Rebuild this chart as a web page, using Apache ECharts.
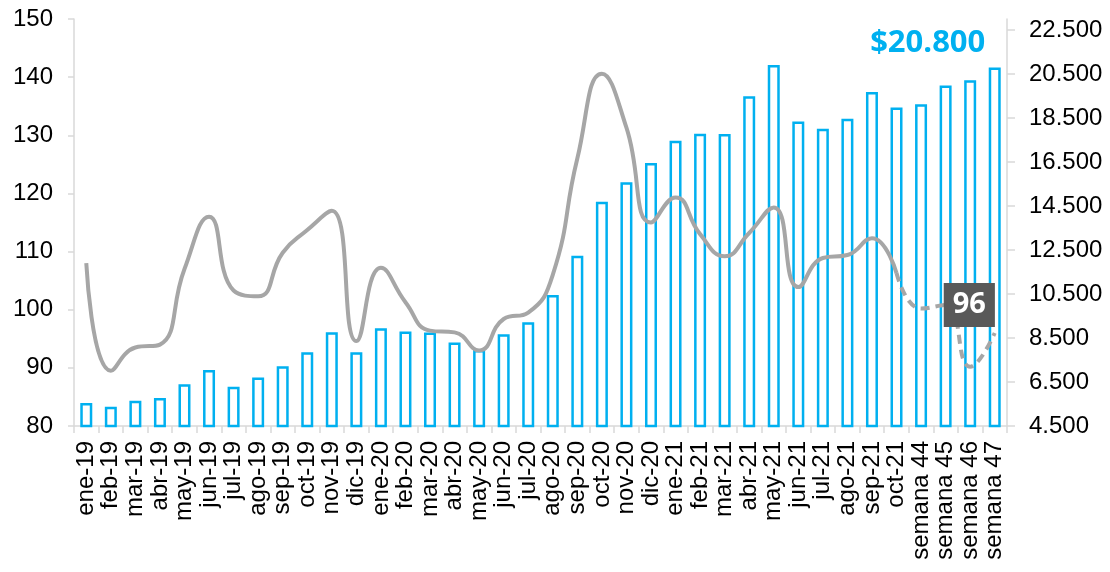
<!DOCTYPE html>
<html>
<head>
<meta charset="utf-8">
<script src="https://cdn.jsdelivr.net/npm/echarts@6/dist/echarts.min.js"></script>
<style>
html,body{margin:0;padding:0;background:#fff;}
#c{width:1110px;height:572px;}
</style>
</head>
<body>
<div id="c"></div>
<script>
var categories = ['ene-19','feb-19','mar-19','abr-19','may-19','jun-19','jul-19','ago-19','sep-19','oct-19','nov-19','dic-19',
  'ene-20','feb-20','mar-20','abr-20','may-20','jun-20','jul-20','ago-20','sep-20','oct-20','nov-20','dic-20',
  'ene-21','feb-21','mar-21','abr-21','may-21','jun-21','jul-21','ago-21','sep-21','oct-21',
  'semana 44','semana 45','semana 46','semana 47'];

var barValues = [5550, 5380, 5650, 5770, 6400, 7040, 6280, 6710, 7220, 7850, 8760, 7850,
  8940, 8800, 8750, 8300, 7950, 8670, 9220, 10450, 12240, 14690, 15580, 16460,
  17470, 17780, 17770, 19490, 20910, 18340, 18010, 18470, 19680, 18980,
  19130, 19980, 20220, 20800];

var lineSolid = [108, 89.5, 93.5, 94, 107, 116, 103.3, 102.3, 109.8, 113.7, 117, 94.6,
  107.2, 101.3, 96.4, 96.1, 93, 98.4, 99.5, 106, 126, 140.6, 131.3, 115,
  119.3, 113, 109.2, 113.2, 117.6, 103.9, 108.9, 109.4, 112.3, 106.3,
  null, null, null, null];

var lineDashed = [null, null, null, null, null, null, null, null, null, null, null, null,
  null, null, null, null, null, null, null, null, null, null, null, null,
  null, null, null, null, null, null, null, null, null, 106.3,
  100.2, 100.8, 90.2, 96];

var leftAxis = {min: 80, max: 150, interval: 10};
var rightAxis = {min: 4500, max: 23000, interval: 2000};
var lastBarLabel = '$20.800';
var lastLineLabel = '96';

function fmtThousands(v){
  return String(v).replace(/\B(?=(\d{3})+(?!\d))/g, '.');
}

var axisGrey = '#D9D9D9';
var fontFam = '"Liberation Sans", Arial, sans-serif';

var barData = barValues.map(function(v, i){
  if (i === barValues.length - 1) {
    return {value: v, label: {show: true, position: 'top', distance: 5, offset: [-67, -4],
      formatter: lastBarLabel, color: '#00B0F0', fontFamily: '"Open Sans", sans-serif',
      fontWeight: 'bold', fontSize: 31}};
  }
  return v;
});

var dashedData = lineDashed.map(function(v, i){
  if (i === lineDashed.length - 1) {
    return {value: v, label: {show: true, position: [-51, -50],
      formatter: lastLineLabel, color: '#fff', backgroundColor: '#595959',
      fontFamily: '"Open Sans", sans-serif', fontWeight: 'bold', fontSize: 29,
      lineHeight: 36, padding: [4, 9, 4, 9]}};
  }
  return v;
});

var chart = echarts.init(document.getElementById('c'), null, {renderer: 'canvas'});
chart.setOption({
  animation: false,
  backgroundColor: '#fff',
  grid: {left: 74, right: 103, top: 19, bottom: 146, containLabel: false},
  xAxis: {
    type: 'category',
    data: categories,
    boundaryGap: true,
    axisLine: {show: true, lineStyle: {color: axisGrey, width: 1.5}},
    axisTick: {show: true, length: 7, interval: 0, lineStyle: {color: axisGrey, width: 1.5}},
    axisLabel: {interval: 0, rotate: 90, margin: 15, color: '#000', fontSize: 24, fontFamily: fontFam},
    splitLine: {show: false}
  },
  yAxis: [{
    type: 'value',
    position: 'left',
    min: leftAxis.min, max: leftAxis.max, interval: leftAxis.interval,
    axisLine: {show: true, lineStyle: {color: axisGrey, width: 1.5}},
    axisTick: {show: true, length: 6, lineStyle: {color: axisGrey, width: 1.5}},
    axisLabel: {margin: 21, color: '#000', fontSize: 24, fontFamily: fontFam},
    splitLine: {show: false}
  }, {
    type: 'value',
    position: 'right',
    min: rightAxis.min, max: rightAxis.max, interval: rightAxis.interval,
    axisLine: {show: true, lineStyle: {color: axisGrey, width: 1.5}},
    axisTick: {show: true, length: 8, lineStyle: {color: axisGrey, width: 1.5}},
    axisLabel: {margin: 22, color: '#000', fontSize: 24, fontFamily: fontFam, showMaxLabel: false,
      formatter: function(v){ return v > 22500 ? '' : fmtThousands(v); }},
    splitLine: {show: false}
  }],
  series: [{
    type: 'bar',
    yAxisIndex: 1,
    data: barData,
    barWidth: 12,
    itemStyle: {color: '#fff', borderColor: '#00B0F0', borderWidth: 2.5},
    z: 2
  }, {
    type: 'line',
    yAxisIndex: 0,
    data: lineSolid,
    smooth: 0.5,
    showSymbol: false,
    symbol: 'none',
    lineStyle: {color: '#A6A6A6', width: 4},
    z: 3
  }, {
    type: 'line',
    yAxisIndex: 0,
    data: dashedData,
    smooth: 0.5,
    showSymbol: true,
    symbol: 'circle',
    symbolSize: 0,
    itemStyle: {color: '#A6A6A6'},
    lineStyle: {color: '#A6A6A6', width: 4, type: [9, 6]},
    labelLayout: {hideOverlap: false},
    z: 3
  }]
});
</script>
</body>
</html>
